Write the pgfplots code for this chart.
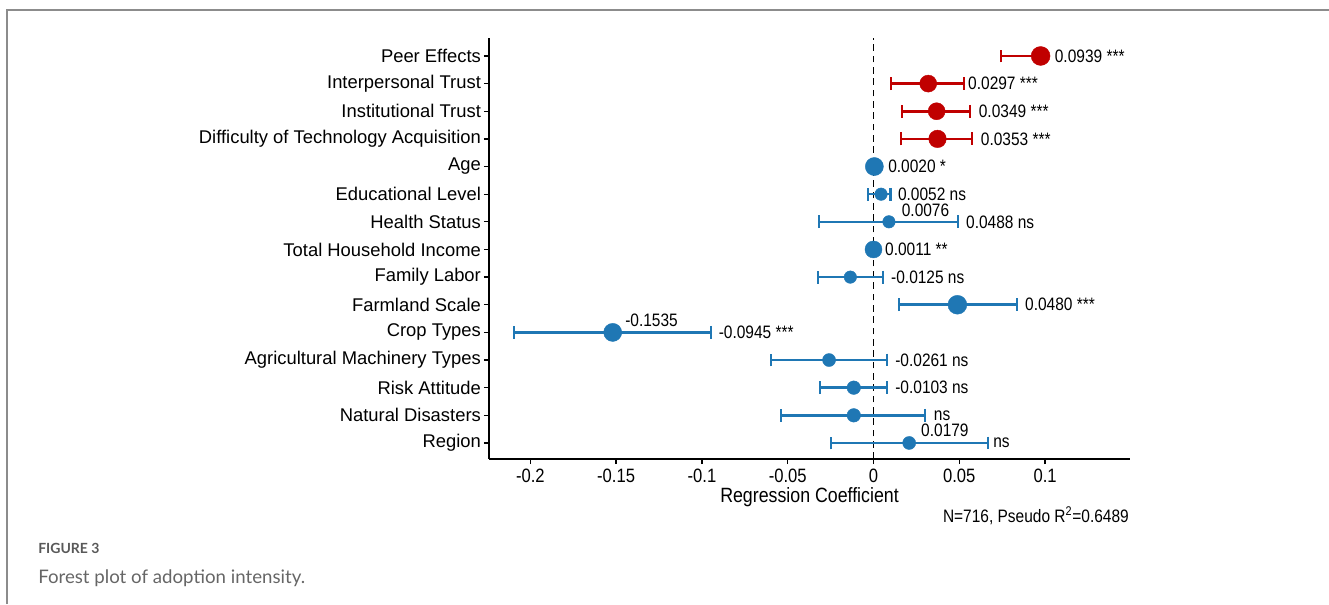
\documentclass[border=0pt]{standalone}
\usepackage{fontspec}
\setmainfont{Liberation Sans}
\newfontfamily\narrow{Liberation Sans}[FakeStretch=0.86]
\newfontfamily\capfont{Lato}
\usepackage{pgfplots}
\usepackage{pgfplotstable}
\pgfplotsset{compat=1.18}
\definecolor{cred}{RGB}{192,0,0}
\definecolor{cblue}{RGB}{31,119,180}

% y = row (15 = top), x = estimate, lo/hi = interval ends, r = marker radius (pt)
\pgfplotstableread{
y  x       lo      hi      r
15 0.0974  0.0741  0.0990  7.1
14 0.0319  0.0103  0.0527  6.4
13 0.0368  0.0167  0.0564  6.4
12 0.0373  0.0160  0.0576  6.6
}\redtab
\pgfplotstableread{
y  x        lo       hi       r
11  0.0005   0.0005   0.0005  6.8
10  0.0044  -0.0032   0.0099  4.7
9   0.0090  -0.0317   0.0495  4.7
8   0.0000   0.0000   0.0000  6.4
7  -0.0135  -0.0324   0.0056  4.7
6   0.0489   0.0147   0.0837  7.1
5  -0.1520  -0.2097  -0.0949  6.8
4  -0.0259  -0.0595   0.0080  4.9
3  -0.0115  -0.0312   0.0080  5.1
2  -0.0115  -0.0537   0.0300  5.1
1   0.0208  -0.0247   0.0665  4.9
}\bluetab

\begin{document}
\begin{tikzpicture}
\path[use as bounding box] (0,0) rectangle (996.75pt,453pt);
\draw[black!45, line width=1.2pt] (5.25pt,0) -- (5.25pt,445.5pt) -- (996.75pt,445.5pt);

\begin{axis}[
  at={(366.75pt,108.75pt)}, anchor=south west,
  scale only axis, width=480.75pt, height=315.75pt,
  xmin=-0.2241, xmax=0.1495, ymin=0.42, ymax=15.65,
  axis x line=bottom, axis y line=left,
  axis line style={-, line width=1pt},
  tick align=outside, major tick length=3.75pt,
  tick style={black, line width=1pt},
  xtick={-0.2,-0.15,-0.1,-0.05,0,0.05,0.1},
  xticklabels={-0.2,-0.15,-0.1,-0.05,0,0.05,0.1},
  x tick label style={font=\narrow\fontsize{14.5}{16}\selectfont},
  ytick={1,...,15},
  yticklabels={Region,Natural Disasters,Risk Attitude,Agricultural Machinery Types,Crop Types,Farmland Scale,Family Labor,Total Household Income,Health Status,Educational Level,Age,Difficulty of Technology Acquisition,Institutional Trust,Interpersonal Trust,Peer Effects},
  y tick label style={font=\fontsize{13.8}{16}\selectfont, xshift=1.2pt},
  xlabel={Regression Coefficient},
  xlabel style={font=\narrow\fontsize{15.5}{17}\selectfont, yshift=3pt},
  clip=false,
]
\addplot[black, dashed, line width=0.9pt, dash pattern=on 5pt off 3.5pt, forget plot]
  coordinates {(0,0.42) (0,15.65)};

\addplot[cred, only marks, mark=*, line width=1.9pt,
  mark options={line width=0.3pt},
  visualization depends on={\thisrow{r} \as \rad},
  scatter, scatter/use mapped color={draw=cred, fill=cred},
  scatter/@pre marker code/.append style={/tikz/mark size=\rad},
  error bars/.cd, x dir=both, x explicit,
  error bar style={line width=1.9pt},
  error mark options={rotate=90, line width=1.6pt, mark size=4.8pt, cred}]
  table[x=x, y=y, x error plus expr=\thisrow{hi}-\thisrow{x}, x error minus expr=\thisrow{x}-\thisrow{lo}] {\redtab};

\addplot[cblue, only marks, mark=*, line width=1.9pt,
  mark options={line width=0.3pt},
  visualization depends on={\thisrow{r} \as \rad},
  scatter, scatter/use mapped color={draw=cblue, fill=cblue},
  scatter/@pre marker code/.append style={/tikz/mark size=\rad},
  error bars/.cd, x dir=both, x explicit,
  error bar style={line width=1.9pt},
  error mark options={rotate=90, line width=1.6pt, mark size=4.8pt, cblue}]
  table[x=x, y=y, x error plus expr=\thisrow{hi}-\thisrow{x}, x error minus expr=\thisrow{x}-\thisrow{lo}] {\bluetab};

\begin{scope}[every node/.style={anchor=west, inner sep=0pt, xshift=1.5pt, font=\narrow\fontsize{13.5}{15}\selectfont}]
\node at (axis cs:0.1044,15) {0.0939 ***};
\node at (axis cs:0.0539,14) {0.0297 ***};
\node at (axis cs:0.0601,13) {0.0349 ***};
\node at (axis cs:0.0613,12) {0.0353 ***};
\node at (axis cs:0.0073,11) {0.0020 *};
\node at (axis cs:0.0130,10) {0.0052 ns};
\node at (axis cs:0.0152,9.43) {0.0076};
\node at (axis cs:0.0527,9) {0.0488 ns};
\node at (axis cs:0.0055,8) {0.0011 **};
\node at (axis cs:0.0090,7) {-0.0125 ns};
\node at (axis cs:0.0871,6) {0.0480 ***};
\node at (axis cs:-0.1460,5.43) {-0.1535};
\node at (axis cs:-0.0915,5) {-0.0945 ***};
\node at (axis cs:0.0114,4) {-0.0261 ns};
\node at (axis cs:0.0114,3) {-0.0103 ns};
\node at (axis cs:0.0339,2) {ns};
\node at (axis cs:0.0265,1.45) {0.0179};
\node at (axis cs:0.0685,1) {ns};
\end{scope}
\end{axis}

\node[anchor=east, inner sep=0pt, font=\narrow\fontsize{13.5}{15}\selectfont] at (846.75pt,66pt) {N=716, Pseudo R\textsuperscript{2}=0.6489};
\node[anchor=west, inner sep=0pt, text=black!65, font=\capfont\bfseries\fontsize{10.5}{12}\selectfont] at (28.5pt,42pt) {FIGURE 3};
\node[anchor=west, inner sep=0pt, text=black!60, font=\capfont\fontsize{14}{16}\selectfont] at (28.5pt,19.5pt) {Forest plot of adoption intensity.};
\end{tikzpicture}
\end{document}
